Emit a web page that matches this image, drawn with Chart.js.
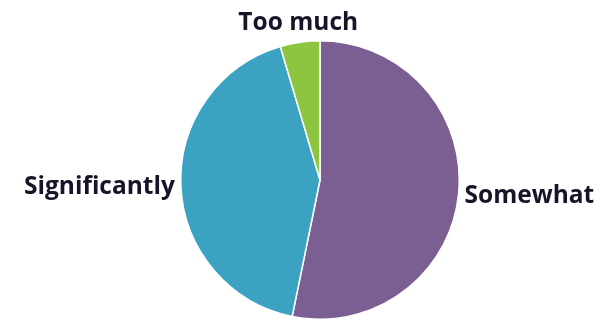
<!DOCTYPE html>
<html>
<head>
<meta charset="utf-8">
<script src="https://cdn.jsdelivr.net/npm/chart.js@4"></script>
<style>
html,body{margin:0;padding:0;background:#fff;}
#wrap{position:relative;width:607px;height:321px;}
</style>
</head>
<body>
<div id="wrap"><canvas id="c"></canvas></div>
<script>
const categories = ["Somewhat", "Significantly", "Too much"];
const values = [53.2, 42.2, 4.6];
const colors = ["#7b5e92", "#3ba2c1", "#8dc540"];

const labelPlugin = {
  id: 'outLabels',
  afterDatasetsDraw(chart) {
    const ctx = chart.ctx;
    const meta = chart.getDatasetMeta(0);
    ctx.save();
    ctx.font = "bold 24.5px 'Open Sans'";
    ctx.fillStyle = "#15152a";
    meta.data.forEach((arc, i) => {
      const p = arc.getProps(['x','y','startAngle','endAngle','outerRadius'], true);
      const mid = (p.startAngle + p.endAngle) / 2;
      const dx = Math.cos(mid), dy = Math.sin(mid);
      if (Math.abs(dx) < 0.4) {
        const r = p.outerRadius + 12;
        ctx.textAlign = 'center';
        ctx.textBaseline = 'alphabetic';
        ctx.fillText(categories[i], p.x + dx * r, p.y + dy * r);
      } else {
        const r = p.outerRadius + 6;
        ctx.textAlign = dx < 0 ? 'right' : 'left';
        ctx.textBaseline = 'middle';
        ctx.fillText(categories[i], p.x + dx * r, p.y + dy * r + 1);
      }
    });
    ctx.restore();
  }
};

new Chart(document.getElementById('c'), {
  type: 'pie',
  data: {
    labels: categories,
    datasets: [{
      data: values,
      backgroundColor: colors,
      borderColor: '#ffffff',
      borderWidth: 1.5
    }]
  },
  options: {
    responsive: true,
    maintainAspectRatio: false,
    animation: false,
    layout: { padding: { left: 180, right: 147, top: 40, bottom: 1 } },
    plugins: { legend: { display: false }, tooltip: { enabled: false } }
  },
  plugins: [labelPlugin]
});
</script>
</body>
</html>
